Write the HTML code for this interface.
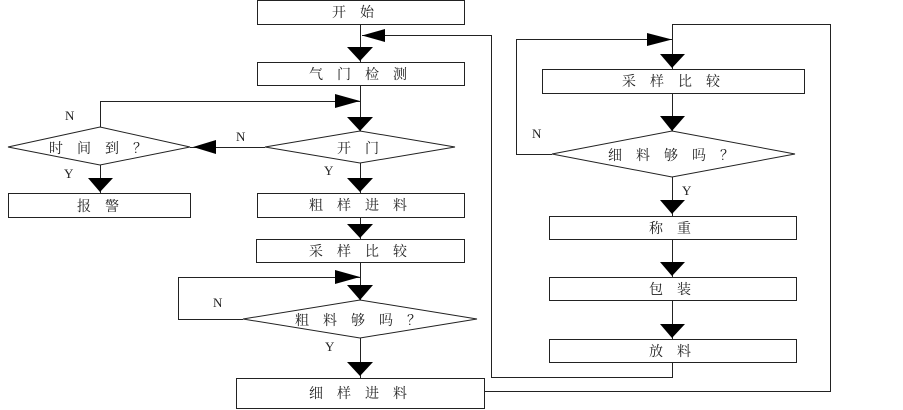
<!DOCTYPE html>
<html><head><meta charset="utf-8"><style>
html,body{margin:0;padding:0;background:#fff;}
svg{display:block}
text{font-family:"Liberation Serif","Noto Serif CJK SC","Noto Sans CJK SC",serif;font-size:14px;fill:#222;}
.l{font-family:"Liberation Serif",serif;font-size:13px;}
</style></head><body>
<svg width="903" height="410" viewBox="0 0 903 410" xmlns="http://www.w3.org/2000/svg">
<g fill="none" stroke="#222" stroke-width="1">
<!-- boxes -->
<rect x="257.5" y="0.5" width="207" height="24"/>
<rect x="257.5" y="62.5" width="207" height="23"/>
<rect x="8.5" y="193.5" width="182" height="24"/>
<rect x="257.5" y="193.5" width="207" height="24"/>
<rect x="256.5" y="239.5" width="208" height="23"/>
<rect x="236.5" y="378.5" width="248" height="30"/>
<rect x="542.5" y="69.5" width="262" height="24"/>
<rect x="549.5" y="216.5" width="247" height="23"/>
<rect x="549.5" y="277.5" width="247" height="23"/>
<rect x="549.5" y="339.5" width="247" height="23"/>
<!-- diamonds -->
<polygon points="265,147 360,131 455,147 360,163"/>
<polygon points="8,147 100,127 190,147 100,165"/>
<polygon points="243,319 360,300 477,319 360,338"/>
<polygon points="552,154 672,131 795,154 672,177"/>
<!-- lines -->
<polyline points="360.5,25 360.5,62"/>
<polyline points="360.5,86 360.5,131"/>
<polyline points="265,147.5 190,147.5"/>
<polyline points="100.5,127 100.5,101.5 360,101.5"/>
<polyline points="100.5,165 100.5,193"/>
<polyline points="360.5,163 360.5,193"/>
<polyline points="360.5,218 360.5,239"/>
<polyline points="360.5,263 360.5,300"/>
<polyline points="243,319.5 178.5,319.5 178.5,277.5 360,277.5"/>
<polyline points="360.5,338 360.5,378"/>
<polyline points="485,391.5 830.5,391.5 830.5,24.5 672.5,24.5 672.5,69"/>
<polyline points="672.5,363 672.5,377.5 491.5,377.5 491.5,35.5 362,35.5"/>
<polyline points="672.5,94 672.5,131"/>
<polyline points="552,154.5 516.5,154.5 516.5,39.5 672,39.5"/>
<polyline points="672.5,177 672.5,216"/>
<polyline points="672.5,240 672.5,277"/>
<polyline points="672.5,301 672.5,339"/>
</g>
<g fill="#000">
<!-- down arrowheads -->
<polygon points="347,47 373,47 360,61"/>
<polygon points="347,117 373,117 360,131"/>
<polygon points="88,178 113,178 100,192"/>
<polygon points="347,178 373,178 360,192"/>
<polygon points="347,224 373,224 360,238"/>
<polygon points="347,285 373,285 360,300"/>
<polygon points="347,362 373,362 360,376"/>
<polygon points="660,54 685,54 672,68"/>
<polygon points="660,116 685,116 672,131"/>
<polygon points="660,200 685,200 672,214"/>
<polygon points="660,262 685,262 672,276"/>
<polygon points="660,324 685,324 672,338"/>
<!-- horizontal arrowheads -->
<polygon points="385,29 385,42 362,35.5"/>
<polygon points="335,94 335,108 360,101"/>
<polygon points="216,140 216,154 193,147"/>
<polygon points="335,270 335,284 360,277"/>
<polygon points="647,33 647,46 672,39.5"/>
</g>
<g text-anchor="middle">
<text x="360" y="17" letter-spacing="14">开始</text>
<text x="365" y="79" letter-spacing="14">气门检测</text>
<text x="365" y="153" letter-spacing="14">开门</text>
<text x="105" y="153" letter-spacing="14">时间到？</text>
<text x="105" y="211" letter-spacing="14">报警</text>
<text x="365" y="210" letter-spacing="14">粗样进料</text>
<text x="365" y="256" letter-spacing="14">采样比较</text>
<text x="365" y="325" letter-spacing="14">粗料够吗？</text>
<text x="365" y="398" letter-spacing="14">细样进料</text>
<text x="678" y="86" letter-spacing="14">采样比较</text>
<text x="678" y="160" letter-spacing="14">细料够吗？</text>
<text x="677" y="233" letter-spacing="14">称重</text>
<text x="677" y="294" letter-spacing="14">包装</text>
<text x="677" y="356" letter-spacing="14">放料</text>
</g>
<text class="l" x="65" y="120">N</text>
<text class="l" x="236" y="141">N</text>
<text class="l" x="64" y="178">Y</text>
<text class="l" x="324" y="175">Y</text>
<text class="l" x="213" y="307">N</text>
<text class="l" x="325" y="351">Y</text>
<text class="l" x="532" y="138">N</text>
<text class="l" x="682" y="195">Y</text>
</svg>
</body></html>
